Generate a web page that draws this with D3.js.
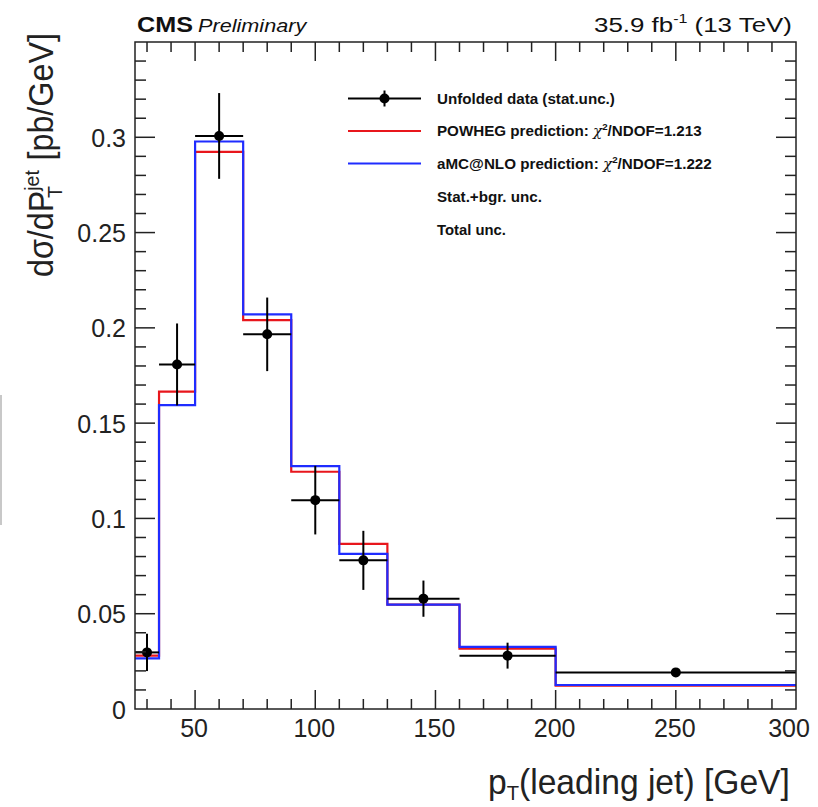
<!DOCTYPE html>
<html><head><meta charset="utf-8">
<script src="https://cdn.jsdelivr.net/npm/d3@7"></script>
<style>body{margin:0;background:#fff}svg{display:block}text{font-family:"Liberation Sans",Arial,sans-serif}</style>
</head><body><svg id="c" width="818" height="807"></svg>
<script>
const binEdges = [25, 35, 50, 70, 90, 110, 130, 160, 200, 300];
const dataValues = [0.0297, 0.1808, 0.3007, 0.1966, 0.1096, 0.0780, 0.0579, 0.0280, 0.0192];
const dataErrors = [0.0098, 0.0215, 0.0225, 0.0193, 0.0180, 0.0155, 0.0095, 0.0068, 0.0008];
const powhegValues = [0.0280, 0.1665, 0.2923, 0.2041, 0.1245, 0.0867, 0.0548, 0.0317, 0.0122];
const amcnloValues = [0.0266, 0.1595, 0.2978, 0.2071, 0.1274, 0.0814, 0.0548, 0.0326, 0.0126];
const xMajorTicks = [50, 100, 150, 200, 250, 300];
const yMajorTicks = [0, 0.05, 0.1, 0.15, 0.2, 0.25, 0.3];
const yTickLabels = ["0", "0.05", "0.1", "0.15", "0.2", "0.25", "0.3"];
const legendLabels = ["Unfolded data (stat.unc.)", "POWHEG prediction: ", "aMC@NLO prediction: ", "Stat.+bgr. unc.", "Total unc."];
const chi2Values = [null, "1.213", "1.222", null, null];

const svg = d3.select("#c");
const L = 135, R = 796, T = 42, B = 709;
const x = d3.scaleLinear().domain([25, 300]).range([L, R]);
const y = d3.scaleLinear().domain([0, 0.35]).range([B, T]);

// fit a text element horizontally to a target width (text drawn at origin)
function fit(sel, ax, ay, targetW, rot) {
  const w = sel.node().getBBox().width;
  sel.attr("transform", `translate(${ax},${ay})${rot ? " rotate(" + rot + ")" : ""} scale(${targetW / w},1)`);
}

// left-edge artefact strip
svg.append("rect").attr("x", 0).attr("y", 395).attr("width", 2).attr("height", 130).attr("fill", "#c8c8c8");

// histograms
const g = svg.append("g");
function drawHist(vals, color) {
  const pts = [];
  vals.forEach((v, i) => { pts.push([binEdges[i], v]); pts.push([binEdges[i + 1], v]); });
  g.append("path").attr("d", d3.line().x(d => x(d[0])).y(d => y(d[1]))(pts))
    .attr("fill", "none").attr("stroke", color).attr("stroke-width", 2.2);
}
drawHist(powhegValues, "#e8161c");
drawHist(amcnloValues, "#1f2cff");

// data points
const centers = binEdges.slice(0, -1).map((e, i) => (e + binEdges[i + 1]) / 2);
const dg = svg.append("g");
dataValues.forEach((v, i) => {
  dg.append("line").attr("x1", x(binEdges[i])).attr("x2", x(binEdges[i + 1]))
    .attr("y1", y(v)).attr("y2", y(v)).attr("stroke", "#000").attr("stroke-width", 2);
  dg.append("line").attr("x1", x(centers[i])).attr("x2", x(centers[i]))
    .attr("y1", y(v + dataErrors[i])).attr("y2", y(v - dataErrors[i])).attr("stroke", "#000").attr("stroke-width", 2);
  dg.append("circle").attr("cx", x(centers[i])).attr("cy", y(v)).attr("r", 5).attr("fill", "#000");
});

// frame
svg.append("rect").attr("x", L).attr("y", T).attr("width", R - L).attr("height", B - T)
  .attr("fill", "none").attr("stroke", "#222").attr("stroke-width", 1.5);

// ticks
const tk = svg.append("g").attr("stroke", "#222").attr("stroke-width", 1.5);
d3.range(30, 300, 10).forEach(v => {
  const len = v % 50 === 0 ? 19 : 10;
  tk.append("line").attr("x1", x(v)).attr("x2", x(v)).attr("y1", B).attr("y2", B - len);
  tk.append("line").attr("x1", x(v)).attr("x2", x(v)).attr("y1", T).attr("y2", T + len);
});
d3.range(1, 35).forEach(k => {
  const v = k / 100;
  const len = k % 5 === 0 ? 20 : 11;
  tk.append("line").attr("x1", L).attr("x2", L + len).attr("y1", y(v)).attr("y2", y(v));
  tk.append("line").attr("x1", R).attr("x2", R - len).attr("y1", y(v)).attr("y2", y(v));
});

// tick labels
xMajorTicks.forEach(v => {
  svg.append("text").attr("x", x(v) - (v === 300 ? 7 : 1)).attr("y", 737).attr("text-anchor", "middle")
    .attr("font-size", 25).attr("fill", "#222").text(v);
});
yMajorTicks.forEach((v, i) => {
  svg.append("text").attr("x", 126).attr("y", y(v) + 9.5).attr("text-anchor", "end")
    .attr("font-size", 25).attr("fill", "#222").text(yTickLabels[i]);
});

// axis titles
const xt = svg.append("text").attr("font-size", 35).attr("fill", "#222");
xt.append("tspan").text("p");
xt.append("tspan").attr("font-size", 21).attr("dy", 6).text("T");
xt.append("tspan").attr("dy", -6).text("(leading jet) [GeV]");
fit(xt, 488, 794, 302);

const yt = svg.append("text").attr("font-size", 35).attr("fill", "#222");
yt.append("tspan").text("d\u03C3/dP");
yt.append("tspan").attr("font-size", 21).attr("dy", -14).text("jet");
yt.append("tspan").attr("font-size", 21).attr("dy", 23).attr("dx", -30).text("T");
yt.append("tspan").attr("dy", -9).attr("dx", 18).text(" [pb/GeV]");
fit(yt, 53, 277, 244, -90);

// header
const cms = svg.append("text").attr("font-weight", "bold").attr("font-size", 22).attr("fill", "#111").text("CMS");
fit(cms, 137, 32, 56);
const prel = svg.append("text").attr("font-style", "italic").attr("font-size", 19).attr("fill", "#111").text("Preliminary");
fit(prel, 198, 32, 110);
const lumi = svg.append("text").attr("font-size", 21).attr("fill", "#111");
lumi.append("tspan").text("35.9 fb");
lumi.append("tspan").attr("font-size", 13).attr("dy", -9).text("-1");
lumi.append("tspan").attr("dy", 9).text(" (13 TeV)");
fit(lumi, 594, 32, 198);

// legend
const lg = svg.append("g");
const rowY = [98.5, 131, 163.5, 196.5, 230];
const rowW = [178, 265, 275, 105, 69];
const lx1 = 348, lx2 = 421, tx = 437;
lg.append("line").attr("x1", lx1).attr("x2", lx2).attr("y1", rowY[0]).attr("y2", rowY[0]).attr("stroke", "#000").attr("stroke-width", 2);
lg.append("line").attr("x1", (lx1 + lx2) / 2).attr("x2", (lx1 + lx2) / 2).attr("y1", rowY[0] - 8).attr("y2", rowY[0] + 8).attr("stroke", "#000").attr("stroke-width", 2);
lg.append("circle").attr("cx", (lx1 + lx2) / 2).attr("cy", rowY[0]).attr("r", 5).attr("fill", "#000");
lg.append("line").attr("x1", lx1).attr("x2", lx2).attr("y1", rowY[1]).attr("y2", rowY[1]).attr("stroke", "#e8161c").attr("stroke-width", 2.2);
lg.append("line").attr("x1", lx1).attr("x2", lx2).attr("y1", rowY[2]).attr("y2", rowY[2]).attr("stroke", "#1f2cff").attr("stroke-width", 2.2);
legendLabels.forEach((lab, i) => {
  const t = lg.append("text").attr("font-size", 14).attr("font-weight", "bold").attr("fill", "#111");
  t.append("tspan").text(lab);
  if (chi2Values[i]) {
    t.append("tspan").attr("font-weight", "normal").attr("font-family", "DejaVu Serif").attr("font-style", "italic").text("\u03C7");
    t.append("tspan").attr("font-size", 9).attr("dy", -6).text("2");
    t.append("tspan").attr("dy", 6).text("/NDOF=" + chi2Values[i]);
  }
  fit(t, tx, rowY[i] + 5, rowW[i]);
});
</script></body></html>
